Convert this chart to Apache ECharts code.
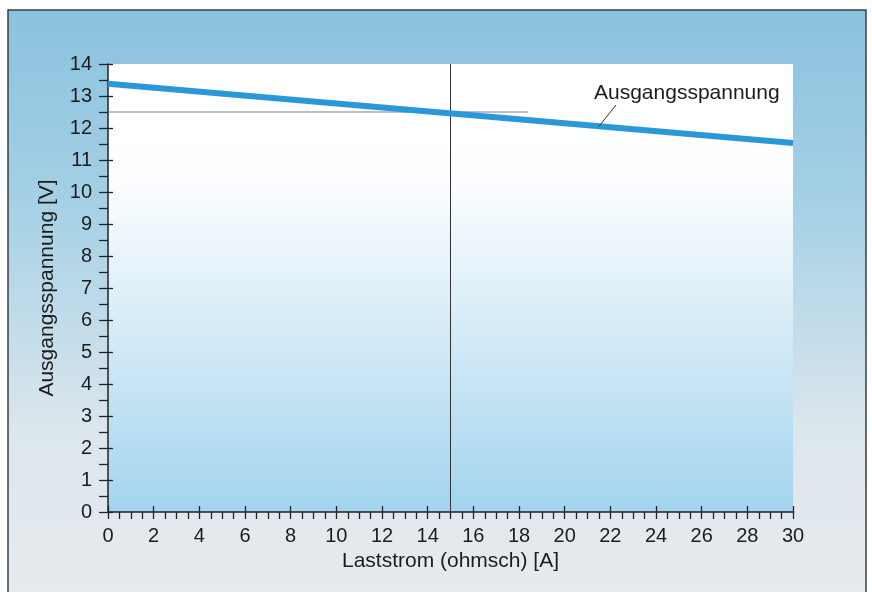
<!DOCTYPE html>
<html>
<head>
<meta charset="utf-8">
<script src="https://cdn.jsdelivr.net/npm/echarts@6/dist/echarts.min.js"></script>
<style>
html,body{margin:0;padding:0;background:#ffffff;}
#c{width:872px;height:592px;}
</style>
</head>
<body>
<div id="c"></div>
<script>
// Data
var voltageLine = [[0, 13.38], [30, 11.53]];
var refHorizontal = [[0, 12.5], [18.4, 12.5]];
var refVertical = [[15, 0], [15, 14]];
var leader = [[21.5, 12.05], [22.25, 12.72]];
var curveLabel = {name: 'Ausgangsspannung', pos: [25.35, 13.1]};
var xName = 'Laststrom (ohmsch) [A]';
var yName = 'Ausgangsspannung [V]';

var FONT = '"Liberation Sans", Arial, sans-serif';
var TXT = '#1c1c1c';
var chart = echarts.init(document.getElementById('c'), null, {renderer: 'canvas'});

var tickStyle = {color: '#222', width: 1.3};

var option = {
  animation: false,
  backgroundColor: '#ffffff',
  graphic: [{
    type: 'rect', z: -10, silent: true,
    shape: {x: 8, y: 10, width: 858, height: 600},
    style: {
      fill: new echarts.graphic.LinearGradient(0, 0, 0, 1, [
        {offset: 0, color: '#8bc2de'},
        {offset: 0.3, color: '#a2cfe5'},
        {offset: 0.7, color: '#dbe6ed'},
        {offset: 1, color: '#e9ebed'}
      ]),
      stroke: '#3a3f44', lineWidth: 1.5
    }
  }],
  grid: {
    left: 108, top: 64, width: 685, height: 448, show: true, borderWidth: 0,
    backgroundColor: new echarts.graphic.LinearGradient(0, 0, 0, 1, [
      {offset: 0, color: '#ffffff'},
      {offset: 0.25, color: '#fdfeff'},
      {offset: 0.6, color: '#d4ebf7'},
      {offset: 1, color: '#a3d4ee'}
    ])
  },
  xAxis: [{
    type: 'value', min: 0, max: 30, interval: 2,
    name: xName, nameLocation: 'middle', nameGap: 38,
    nameTextStyle: {fontFamily: FONT, fontSize: 21, color: TXT},
    axisLine: {show: true, onZero: false, lineStyle: {color: '#222', width: 1.5}},
    axisTick: {show: true, length: 7, lineStyle: tickStyle},
    minorTick: {show: true, splitNumber: 4, length: 7, lineStyle: tickStyle},
    axisLabel: {fontFamily: FONT, fontSize: 20, color: TXT, margin: 14},
    splitLine: {show: false}
  }, {
    type: 'value', min: 0, max: 30, interval: 2, position: 'bottom',
    axisLine: {show: false},
    axisTick: {show: true, inside: true, length: 6, lineStyle: tickStyle},
    axisLabel: {show: false}, splitLine: {show: false}
  }],
  yAxis: [{
    type: 'value', min: 0, max: 14, interval: 1,
    name: yName, nameLocation: 'middle', nameGap: 50, nameRotate: 90,
    nameTextStyle: {fontFamily: FONT, fontSize: 21, color: TXT},
    axisLine: {show: true, onZero: false, lineStyle: {color: '#222', width: 1.5}},
    axisTick: {show: true, length: 9, lineStyle: tickStyle},
    minorTick: {show: true, splitNumber: 2, length: 9, lineStyle: tickStyle},
    axisLabel: {fontFamily: FONT, fontSize: 20, color: TXT, margin: 16},
    splitLine: {show: false}
  }, {
    type: 'value', min: 0, max: 14, interval: 1, position: 'left',
    axisLine: {show: false},
    axisTick: {show: true, inside: true, length: 5, lineStyle: tickStyle},
    axisLabel: {show: false}, splitLine: {show: false}
  }],
  series: [{
    type: 'line', data: refHorizontal, symbol: 'none', z: 2,
    lineStyle: {color: '#7a7f84', width: 1.2}
  }, {
    type: 'line', data: refVertical, symbol: 'none', z: 2,
    lineStyle: {color: '#333', width: 1}
  }, {
    type: 'line', data: voltageLine, symbol: 'none', z: 3,
    lineStyle: {color: '#2a98d8', width: 6}
  }, {
    type: 'line', data: leader, symbol: 'none', z: 4,
    lineStyle: {color: '#333', width: 1}
  }, {
    type: 'scatter', symbolSize: 0, z: 5,
    itemStyle: {opacity: 1},
    data: [{name: curveLabel.name, value: curveLabel.pos}],
    label: {show: true, position: 'inside', formatter: '{b}', opacity: 1,
      fontFamily: FONT, fontSize: 21, color: TXT}
  }]
};
chart.setOption(option);
</script>
</body>
</html>
